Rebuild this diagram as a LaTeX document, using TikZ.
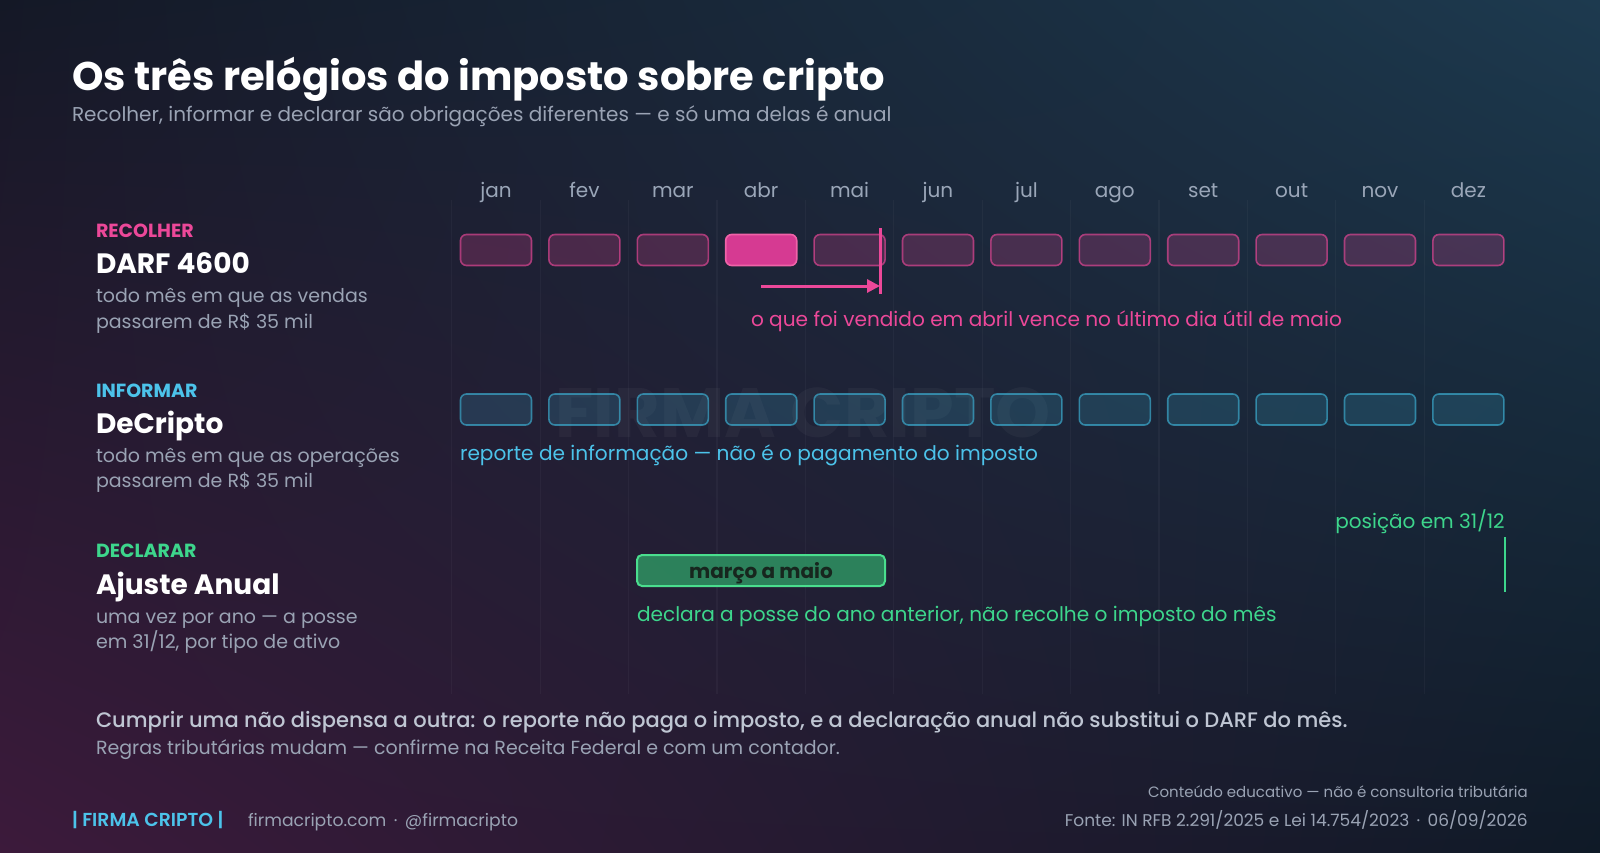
\documentclass[tikz,border=0pt]{standalone}
\usepackage{fontspec}
\setmainfont{Poppins}
\newfontfamily\popsemi{Poppins SemiBold}
\newfontfamily\popmed{Poppins Medium}
\usetikzlibrary{arrows.meta,shadings}
\definecolor{bgTL}{HTML}{141826}
\definecolor{bgTR}{HTML}{1D3A4F}
\definecolor{bgBL}{HTML}{3C1A3B}
\definecolor{bgBR}{HTML}{0F1A27}
\definecolor{pinkc}{HTML}{EC4899}
\definecolor{pinkfill}{HTML}{D63A92}
\definecolor{pinkedge}{HTML}{F062A8}
\definecolor{cyanc}{HTML}{4CC3EA}
\definecolor{cyanbox}{HTML}{3BA9CC}
\definecolor{greenc}{HTML}{3DD68C}
\definecolor{greenedge}{HTML}{4ADE8E}
\definecolor{greenfill}{HTML}{2E8C60}
\definecolor{bardark}{HTML}{17261E}
\definecolor{grayt}{HTML}{9AA3B4}
\definecolor{monthc}{HTML}{9AA6B8}
\definecolor{lightt}{HTML}{BFC6D3}
\newcommand\fsz[1]{\fontsize{\fpeval{(#1)*0.75}pt}{\fpeval{(#1)*0.95}pt}\selectfont}
\newcommand\pxl[1]{\fpeval{(#1)*0.75}pt}
\tikzset{
  txt/.style={anchor=base west, inner sep=0pt, outer sep=0pt},
  catlab/.style={txt, font=\bfseries\fsz{19}},
  headlab/.style={txt, font=\bfseries\fsz{28}, text=white},
  desclab/.style={txt, font=\fsz{19}, text=grayt},
  notelab/.style={txt, font=\fsz{20.1}},
  monthlab/.style={anchor=base, inner sep=0pt, font=\fsz{20}, text=monthc},
  pbox/.style={rounded corners=\pxl{6}, minimum width=\pxl{71}, minimum height=\pxl{31}, inner sep=0pt,
    draw=pinkc, draw opacity=0.65, fill=pinkc, fill opacity=0.22, line width=\pxl{1.6}},
  pboxhi/.style={pbox, fill=pinkfill, fill opacity=1, draw=pinkedge, draw opacity=1},
  cbox/.style={rounded corners=\pxl{6}, minimum width=\pxl{71}, minimum height=\pxl{31}, inner sep=0pt,
    draw=cyanbox, draw opacity=0.7, fill=cyanbox, fill opacity=0.2, line width=\pxl{1.6}},
  gridline/.style={white, opacity=0.035, line width=\pxl{1.2}},
}
\begin{document}
\begin{tikzpicture}[x=0.75pt,y=-0.75pt]
\useasboundingbox (0,0) rectangle (1600,853);
\shade[upper left=bgTL, upper right=bgTR, lower left=bgBL, lower right=bgBR] (0pt,0pt) rectangle (1200pt,-639.75pt);

% faint column lines
\foreach \i in {0,...,11} {
  \pgfmathsetmacro\xl{496+88.4*\i-44.2}
  \draw[gridline] (\xl,200) -- (\xl,694);
}

% watermark
\node[font=\bfseries\fsz{70}, text=white, text opacity=0.04, inner sep=0pt] (wm) at (803,413) {FIRMA CRIPTO};

% title
\node[txt, font=\bfseries\fsz{40}, text=white] (title) at (72,90) {Os três relógios do imposto sobre cripto};
\node[txt, font=\fsz{20}, text=grayt] (subtitle) at (72,121.5) {Recolher, informar e declarar são obrigações diferentes — e só uma delas é anual};

% months and boxes
\foreach \n [count=\i from 0] in {jan,fev,mar,abr,mai,jun,jul,ago,set,out,nov,dez} {
  \pgfmathsetmacro\x{496+88.4*\i}
  \node[monthlab] (m\i) at (\x,197) {\n};
  \ifnum\i=3
    \node[pboxhi] (ra\i) at (\x,250) {};
  \else
    \node[pbox] (ra\i) at (\x,250) {};
  \fi
  \node[cbox] (rb\i) at (\x,409.5) {};
}

% left column
\node[catlab, text=pinkc] (c1) at (96,237) {RECOLHER};
\node[headlab] (h1) at (96,273) {DARF 4600};
\node[desclab] (d1a) at (96,302.5) {todo mês em que as vendas};
\node[desclab] (d1b) at (96,328) {passarem de R\$ 35 mil};

\node[catlab, text=cyanc] (c2) at (96,397) {INFORMAR};
\node[headlab] (h2) at (96,433) {DeCripto};
\node[desclab] (d2a) at (96,462) {todo mês em que as operações};
\node[desclab] (d2b) at (96,487.5) {passarem de R\$ 35 mil};

\node[catlab, text=greenc] (c3) at (96,557) {DECLARAR};
\node[headlab] (h3) at (96,594) {Ajuste Anual};
\node[desclab] (d3a) at (96,623) {uma vez por ano — a posse};
\node[desclab] (d3b) at (96,648.5) {em 31/12, por tipo de ativo};

% recolher marker + arrow
\coordinate (mkT) at (880,228);
\coordinate (mkB) at (880,294);
\coordinate (due) at (880,286);
\draw[pinkc, line width=\pxl{3}] (mkT) -- (mkB);
\draw[pinkc, line width=\pxl{3}, -{Triangle[length=\pxl{13}, width=\pxl{13}]}] (ra3.center |- due) -- (due);
\node[notelab, text=pinkc] (n1) at (751,326) {o que foi vendido em abril vence no último dia útil de maio};

% informar note
\node[notelab, text=cyanc] (n2) at (460,460) {reporte de informação — não é o pagamento do imposto};

% declarar bar
\node[rounded corners=\pxl{5}, minimum width=\pxl{248}, minimum height=\pxl{31}, inner sep=0pt,
  draw=greenedge, line width=\pxl{2}, fill=greenfill, fill opacity=0.9] (bar) at (761,570.5) {};
\node[anchor=base, inner sep=0pt, font=\bfseries\fsz{20}, text=bardark] (bartxt) at (761,578) {março a maio};
\node[anchor=base east, inner sep=0pt, font=\fsz{20}, text=greenc] (pos) at (1505,528) {posição em 31/12};
\coordinate (pT) at (1505,537);
\coordinate (pB) at (1505,592);
\draw[greenc, line width=\pxl{2.5}] (pT) -- (pB);
\node[notelab, text=greenc] (n3) at (637,621) {declara a posse do ano anterior, não recolhe o imposto do mês};

% bottom
\node[txt, font=\popmed\fsz{21}, text=lightt] (b1) at (96,727) {Cumprir uma não dispensa a outra: o reporte não paga o imposto, e a declaração anual não substitui o DARF do mês.};
\node[txt, font=\fsz{19}, text=grayt] (b2) at (96,754) {Regras tributárias mudam — confirme na Receita Federal e com um contador.};

% footer
\node[txt, font=\popsemi\fsz{18.8}, text=cyanc] (f1) at (72,826) {| FIRMA CRIPTO |};
\node[txt, font=\fsz{17.2}, text=grayt] (f2) at (248,826) {firmacripto.com \,·\, @firmacripto};
\node[anchor=base east, inner sep=0pt, font=\fsz{15}, text=grayt] (f3) at (1528,797) {Conteúdo educativo — não é consultoria tributária};
\node[anchor=base east, inner sep=0pt, font=\fsz{17}, text=grayt] (f4) at (1528,826) {Fonte: IN RFB 2.291/2025 e Lei 14.754/2023 \,·\, 06/09/2026};
\end{tikzpicture}
\end{document}
